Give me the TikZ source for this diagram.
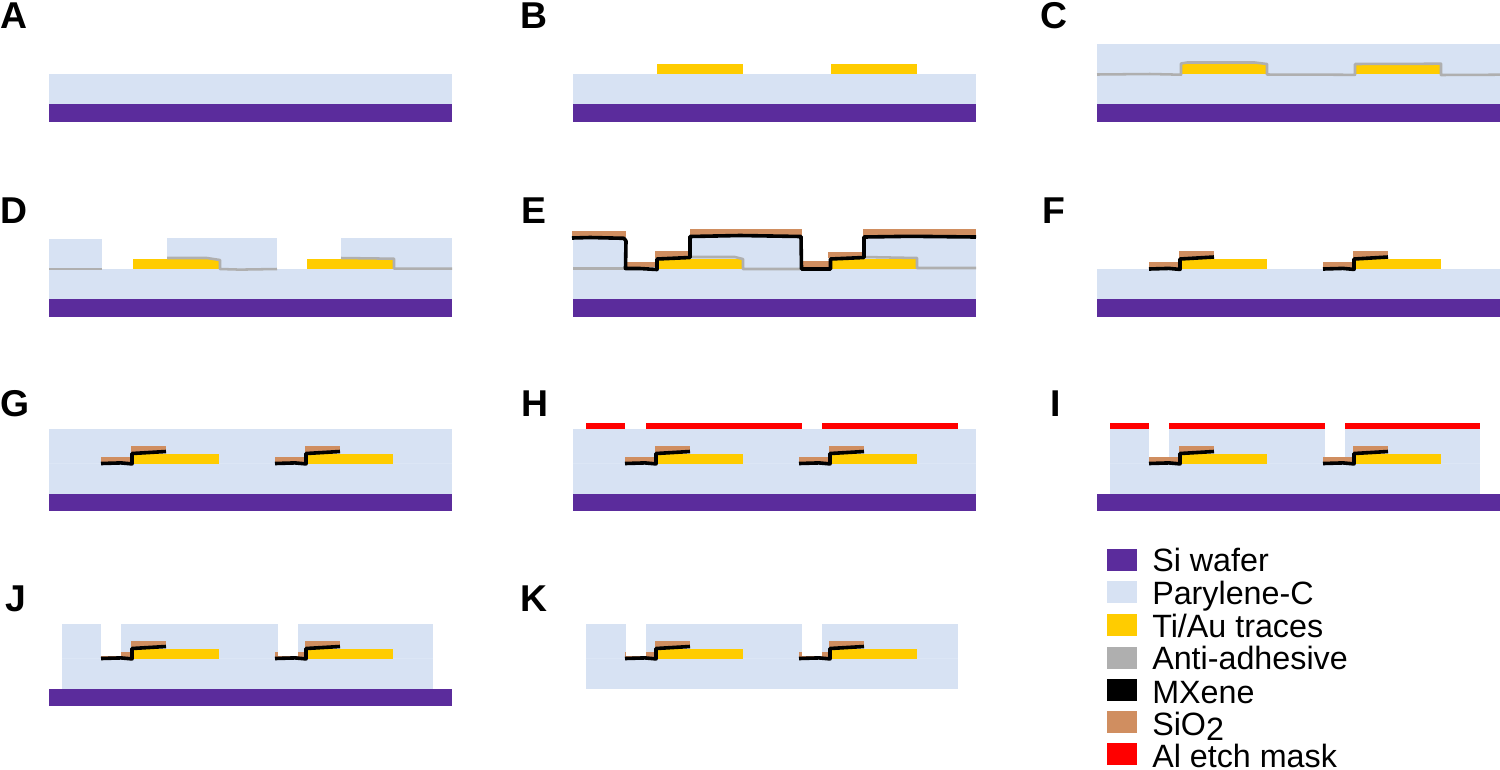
\documentclass[tikz,border=0pt]{standalone}
\usepackage{fontspec}
\setmainfont{Liberation Sans}
\definecolor{wafercol}{HTML}{5B2C9C}
\definecolor{parycol}{HTML}{D7E2F3}
\definecolor{seamcol}{HTML}{DCE6F5}
\definecolor{goldcol}{HTML}{FFCC00}
\definecolor{antigray}{HTML}{AFAFAF}
\definecolor{oxidecol}{HTML}{D08E60}
\definecolor{maskcol}{HTML}{FF0000}
\tikzset{
  wafer/.style={fill=wafercol,draw=none},
  pary/.style={fill=parycol,draw=none},
  gold/.style={fill=goldcol,draw=none},
  oxide/.style={fill=oxidecol,draw=none},
  maskbar/.style={fill=maskcol,draw=none},
  gap/.style={fill=white,draw=none},
  seam/.style={draw=seamcol,line width=0.6pt},
  antiline/.style={draw=antigray,line width=1.9pt,line join=round},
  mxline/.style={draw=black,line width=2.7pt,line join=round},
  panel/.style={font=\bfseries\fontsize{28}{30}\selectfont,anchor=base west,inner sep=0pt,text=black},
  legtext/.style={font=\fontsize{24.2}{26}\selectfont,anchor=base west,inner sep=0pt,text=black},
  swatch/.style={minimum width=22.5pt,minimum height=16.5pt,inner sep=0pt,draw=none,anchor=north west}
}
% #1 = trace left x, #2 = trace bottom y
\newcommand{\trace}[2]{\fill[gold] (#1,#2) rectangle ++(85.5,-10);}
% oxide and MXene step relative to the trace
\newcommand{\stepstack}[2]{%
  \begin{scope}[shift={(#1,#2)}]
    \fill[oxide] (-32,-7) rectangle (-1,-1);
    \fill[oxide] (-2,-18) rectangle (33,-11);
  \end{scope}}
\newcommand{\stepmx}[2]{%
  \begin{scope}[shift={(#1,#2)}]
    \draw[mxline] (-32,0) -- (-12,-0.6) -- (-1,0.4) -- (-1,-10) -- (33,-12);
  \end{scope}}
\begin{document}
\begin{tikzpicture}[x=0.75pt,y=-0.75pt]
\useasboundingbox (0,0) rectangle (1500,769);
\fill[white] (0,0) rectangle (1500,769);

% Panel labels
\node[panel] (lA) at (0,28) {A};
\node[panel] (lB) at (520.5,28) {B};
\node[panel] (lC) at (1040,28) {C};
\node[panel] (lD) at (0,223) {D};
\node[panel] (lE) at (521,223) {E};
\node[panel] (lF) at (1042.5,223) {F};
\node[panel] (lG) at (0,416) {G};
\node[panel] (lH) at (521,416) {H};
\node[panel] (lI) at (1050,416) {I};
\node[panel] (lJ) at (5,611) {J};
\node[panel] (lK) at (520,611) {K};

% A
\fill[pary] (49,74) rectangle (452,104);
\fill[wafer] (49,104) rectangle (452,122);

% B
\fill[pary] (573,74) rectangle (976,104);
\fill[wafer] (573,104) rectangle (976,122);
\trace{657}{74}\trace{831}{74}

% C
\fill[pary] (1097,44) rectangle (1500,104);
\fill[wafer] (1097,104) rectangle (1500,122);
\trace{1181.5}{74}\trace{1355.5}{74}
\draw[antiline] (1097,74.5) -- (1150,74) -- (1181,74.7) -- (1181,63.5) -- (1187,62.5) -- (1255,62.5) -- (1267,64) -- (1267,74.5) -- (1355,74.8) -- (1355,64) -- (1441,63.7) -- (1441,75) -- (1500,74.7);

% D
\fill[pary] (49,269) rectangle (452,299);
\fill[pary] (49,239) rectangle (102,269);
\fill[pary] (167,238) rectangle (277,269);
\fill[pary] (341,238) rectangle (452,269);
\fill[wafer] (49,299) rectangle (452,317);
\trace{133}{269}\trace{307}{269}
\draw[antiline] (49,269) -- (102,269);
\draw[antiline] (167,258) -- (207,258) -- (220,260) -- (220,269) -- (240,269.6) -- (277,269);
\draw[antiline] (341,258) -- (394,258.7) -- (394,268.7) -- (452,268.7);

% E
\fill[pary] (573,269) rectangle (976,299);
\fill[pary] (573,238) rectangle (625,269);
\fill[pary] (690,236) rectangle (801,269);
\fill[pary] (864,236) rectangle (976,269);
\fill[wafer] (573,299) rectangle (976,317);
\trace{657}{269}\trace{831}{269}
\draw[antiline] (573,268.7) -- (625,268.7);
\draw[antiline] (690,257) -- (735,257) -- (743,259) -- (743,269) -- (800,269);
\draw[antiline] (864,257) -- (917,258) -- (917,268) -- (976,268);
\fill[oxide] (572,230.5) rectangle (626,237);
\fill[oxide] (627,262) rectangle (657,267);
\fill[oxide] (655,251) rectangle (689,258);
\fill[oxide] (690,229) rectangle (802,236);
\fill[oxide] (803,261) rectangle (829,267);
\fill[oxide] (828,251.5) rectangle (862,258);
\fill[oxide] (863,229) rectangle (976,236);
\draw[mxline] (572,238) -- (590,237.5) -- (624,238.3) -- (626,241) -- (625.5,268.5) -- (640,268.5) -- (657,269.5) -- (657,259) -- (690,257.5) -- (690,236.5) -- (740,235.5) -- (801,236.5) -- (801.5,269) -- (830.5,269) -- (830.5,259) -- (864,257.5) -- (864,237) -- (910,236.3) -- (976,237);

% F
\fill[pary] (1097,269) rectangle (1500,299);
\fill[wafer] (1097,299) rectangle (1500,317);
\trace{1181}{269}\trace{1355}{269}
\stepstack{1181}{269}\stepmx{1181}{269}
\stepstack{1355}{269}\stepmx{1355}{269}

% G
\fill[pary] (49,429) rectangle (452,494);
\draw[seam] (49,463.5) -- (452,463.5);
\fill[wafer] (49,494) rectangle (452,511);
\trace{133}{463.5}\trace{307}{463.5}
\stepstack{133}{463.5}\stepmx{133}{463.5}
\stepstack{307}{463.5}\stepmx{307}{463.5}

% H
\fill[pary] (573,429) rectangle (976,494);
\draw[seam] (573,463.5) -- (976,463.5);
\fill[wafer] (573,494) rectangle (976,511);
\trace{657}{463.5}\trace{831}{463.5}
\stepstack{657}{463.5}\stepmx{657}{463.5}
\stepstack{831}{463.5}\stepmx{831}{463.5}
\fill[maskbar] (586,422.5) rectangle (625,429);
\fill[maskbar] (646,422.5) rectangle (802,429);
\fill[maskbar] (822,422.5) rectangle (958,429);

% I
\fill[pary] (1110,429) rectangle (1480,494);
\draw[seam] (1110,463.5) -- (1480,463.5);
\fill[wafer] (1097,494) rectangle (1500,511);
\trace{1181}{463.5}\trace{1355}{463.5}
\fill[gap] (1149,429) rectangle (1169,457);
\fill[gap] (1325,429) rectangle (1345,457);
\stepstack{1181}{463.5}\stepmx{1181}{463.5}
\stepstack{1355}{463.5}\stepmx{1355}{463.5}
\fill[maskbar] (1110,422.5) rectangle (1149,429);
\fill[maskbar] (1169,422.5) rectangle (1325,429);
\fill[maskbar] (1345,422.5) rectangle (1480,429);

% J
\fill[pary] (62,624) rectangle (433,689);
\draw[seam] (62,658.5) -- (433,658.5);
\fill[wafer] (49,689) rectangle (452,706);
\trace{133}{658.5}\trace{307}{658.5}
\stepstack{133}{658.5}\stepstack{307}{658.5}
\fill[gap] (101,624) rectangle (121,655.5);
\fill[gap] (278,624) rectangle (298,655.5);
\stepmx{133}{658.5}\stepmx{307}{658.5}

% K
\fill[pary] (586,624) rectangle (958,689);
\draw[seam] (586,658.5) -- (958,658.5);
\trace{657}{658.5}\trace{831}{658.5}
\stepstack{657}{658.5}\stepstack{831}{658.5}
\fill[gap] (626,624) rectangle (646,655.5);
\fill[gap] (802,624) rectangle (822,655.5);
\stepmx{657}{658.5}\stepmx{831}{658.5}

% Legend
\node[swatch,fill=wafercol] (s1) at (1107,549) {};
\node[swatch,fill=parycol] (s2) at (1107,581) {};
\node[swatch,fill=goldcol] (s3) at (1107,614) {};
\node[swatch,fill=antigray] (s4) at (1107,647) {};
\node[swatch,fill=black] (s5) at (1107,679) {};
\node[swatch,fill=oxidecol] (s6) at (1107,711) {};
\node[swatch,fill=maskcol] (s7) at (1107,743) {};
\node[legtext] (t1) at (1152,571) {Si wafer};
\node[legtext] (t2) at (1152,604) {Parylene-C};
\node[legtext] (t3) at (1152,637) {Ti/Au traces};
\node[legtext] (t4) at (1152,669) {Anti-adhesive};
\node[legtext] (t5) at (1152,703) {MXene};
\node[legtext] (t6) at (1152,735) {SiO\raisebox{-4pt}{2}};
\node[legtext] (t7) at (1152,767) {Al etch mask};
\end{tikzpicture}
\end{document}
